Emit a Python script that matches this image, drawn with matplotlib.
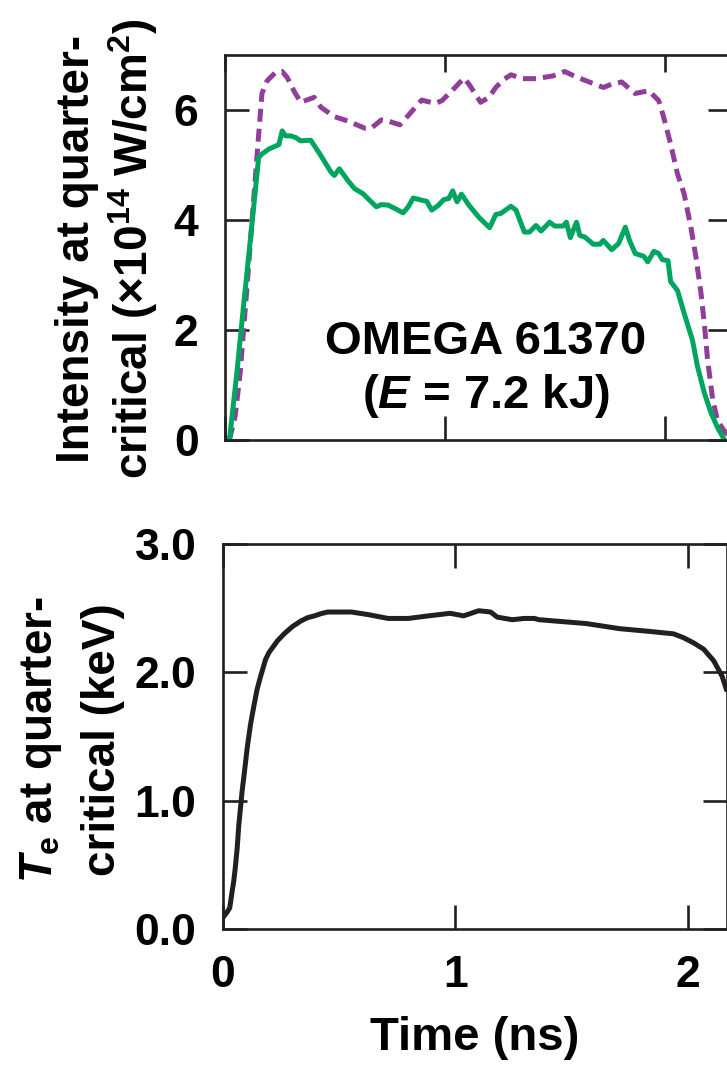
import matplotlib
matplotlib.use("Agg")
import matplotlib.pyplot as plt

# top panel: intensity at quarter-critical (x10^14 W/cm^2), OMEGA shot 61370
green_t = [0.020, 0.054, 0.084, 0.115, 0.138, 0.153, 0.168, 0.199, 0.245, 0.260,
           0.275, 0.298, 0.321, 0.344, 0.390, 0.436, 0.482, 0.497, 0.520, 0.558,
           0.589, 0.627, 0.657, 0.688, 0.711, 0.742, 0.772, 0.810, 0.833, 0.856,
           0.894, 0.917, 0.940, 0.971, 0.994, 1.017, 1.035, 1.055, 1.075, 1.109,
           1.154, 1.203, 1.231, 1.254, 1.300, 1.323, 1.361, 1.384, 1.414, 1.437,
           1.476, 1.499, 1.537, 1.552, 1.570, 1.598, 1.613, 1.636, 1.674, 1.705,
           1.720, 1.758, 1.789, 1.820, 1.839, 1.865, 1.904, 1.922, 1.950, 1.972,
           1.988, 2.014, 2.026, 2.057, 2.087, 2.125, 2.148, 2.179, 2.209, 2.240,
           2.271]
green_I = [0.0, 1.22, 2.43, 3.63, 4.54, 5.14, 5.20, 5.29, 5.37, 5.62,
           5.53, 5.53, 5.50, 5.44, 5.45, 5.17, 4.87, 4.81, 4.93, 4.72,
           4.57, 4.48, 4.36, 4.24, 4.28, 4.27, 4.21, 4.13, 4.24, 4.40,
           4.36, 4.34, 4.18, 4.27, 4.37, 4.39, 4.53, 4.33, 4.47, 4.27,
           4.05, 3.86, 4.10, 4.12, 4.25, 4.18, 3.78, 3.78, 3.90, 3.80,
           3.96, 3.89, 3.89, 3.96, 3.68, 3.96, 3.72, 3.69, 3.56, 3.56,
           3.63, 3.46, 3.57, 3.87, 3.63, 3.39, 3.34, 3.24, 3.43, 3.39,
           3.28, 3.26, 2.88, 2.72, 2.31, 1.82, 1.34, 0.86, 0.50, 0.22,
           0.0]

purple_t = [0.020, 0.046, 0.069, 0.099, 0.130, 0.153, 0.168, 0.191, 0.229, 0.260,
            0.283, 0.313, 0.344, 0.405, 0.436, 0.497, 0.558, 0.635, 0.665, 0.711,
            0.742, 0.795, 0.833, 0.894, 0.956, 0.986, 1.032, 1.086, 1.109, 1.162,
            1.200, 1.231, 1.269, 1.300, 1.353, 1.414, 1.491, 1.544, 1.598, 1.720,
            1.758, 1.804, 1.835, 1.865, 1.888, 1.927, 1.972, 1.995, 2.026, 2.057,
            2.087, 2.118, 2.141, 2.164, 2.179, 2.194, 2.217, 2.240, 2.271, 2.310]
purple_I = [0.0, 0.43, 1.22, 2.73, 4.36, 5.55, 6.30, 6.53, 6.68, 6.70,
            6.59, 6.35, 6.14, 6.23, 6.05, 5.88, 5.80, 5.67, 5.67, 5.82,
            5.80, 5.73, 5.90, 6.18, 6.12, 6.17, 6.35, 6.58, 6.47, 6.14,
            6.23, 6.41, 6.56, 6.64, 6.57, 6.57, 6.62, 6.70, 6.60, 6.41,
            6.47, 6.51, 6.40, 6.30, 6.32, 6.35, 6.17, 5.86, 5.38, 4.84,
            4.48, 3.87, 3.33, 2.67, 2.12, 1.46, 0.74, 0.34, 0.16, 0.0]

# bottom panel: Te at quarter-critical (keV)
te_t = [0.0, 0.017, 0.029, 0.039, 0.046, 0.053, 0.061, 0.068, 0.082, 0.092,
        0.104, 0.118, 0.133, 0.147, 0.162, 0.183, 0.198, 0.212, 0.234, 0.263,
        0.299, 0.335, 0.364, 0.393, 0.421, 0.450, 0.552, 0.624, 0.710, 0.797,
        0.884, 0.977, 1.035, 1.100, 1.151, 1.180, 1.245, 1.295, 1.339, 1.360,
        1.563, 1.707, 1.829, 1.938, 1.981, 2.024, 2.068, 2.111, 2.147, 2.165]
te_keV = [0.09, 0.13, 0.165, 0.29, 0.37, 0.48, 0.63, 0.81, 1.07, 1.22,
          1.41, 1.59, 1.74, 1.87, 1.97, 2.10, 2.155, 2.19, 2.245, 2.30,
          2.357, 2.40, 2.426, 2.44, 2.457, 2.47, 2.47, 2.45, 2.42, 2.42,
          2.44, 2.46, 2.44, 2.48, 2.47, 2.43, 2.41, 2.42, 2.42, 2.41,
          2.38, 2.34, 2.32, 2.30, 2.27, 2.23, 2.18, 2.09, 1.97, 1.87]

time_ticks = [0, 1, 2]
int_ticks = [0, 2, 4, 6]
te_ticks = [0.0, 1.0, 2.0, 3.0]

GREEN = "#00A660"
PURPLE = "#903F99"
INK = "#231F20"

plt.rcParams["font.family"] = ["Liberation Sans", "DejaVu Sans"]
plt.rcParams["font.weight"] = "bold"
plt.rcParams["axes.labelweight"] = "bold"
plt.rcParams["mathtext.fontset"] = "custom"
plt.rcParams["mathtext.rm"] = "Liberation Sans:bold"
plt.rcParams["mathtext.it"] = "Liberation Sans:italic:bold"
plt.rcParams["mathtext.bf"] = "Liberation Sans:bold"

W, H = 727, 1066
fig = plt.figure(figsize=(W / 100, H / 100), dpi=100)


def px_axes(left, top, right, bottom):
    return fig.add_axes([left / W, 1 - bottom / H, (right - left) / W, (bottom - top) / H])


def ylabel_line(x, y, s):
    fig.text(x / W, 1 - y / H, s, rotation=90, rotation_mode="anchor",
             ha="center", va="baseline", fontsize=33, color="black")


ax1 = px_axes(225, 55, 732, 440)
ax2 = px_axes(223, 544, 726.5, 929)

for ax in (ax1, ax2):
    ax.tick_params(direction="in", length=17.5, width=1.9, top=True, right=True,
                   labelsize=32, pad=19, color=INK)
    for s in ax.spines.values():
        s.set_linewidth(1.9)
        s.set_color(INK)

ax1.plot(purple_t, purple_I, color=PURPLE, lw=3.6, dashes=(2.6, 1.4))
ax1.plot(green_t, green_I, color=GREEN, lw=3.6, solid_joinstyle="round")
ax1.set_xlim(0, 2.305)
ax1.set_ylim(0, 7)
ax1.set_xticks(time_ticks)
ax1.set_yticks(int_ticks)
ax1.tick_params(labelbottom=False)
for tick in ax1.xaxis.get_major_ticks():
    tick.tick2line.set_markersize(12.5)

ax1.text(0.514, 0.2226, "OMEGA 61370", transform=ax1.transAxes,
         ha="center", va="baseline", fontsize=34)
ax1.text(0.514, 0.083, "($E$ = 7.2 kJ)", transform=ax1.transAxes,
         ha="center", va="baseline", fontsize=34)

ax2.plot(te_t, te_keV, color=INK, lw=3.6, solid_joinstyle="round")
ax2.set_xlim(0, 2.166)
ax2.set_ylim(0, 3)
ax2.set_xticks(time_ticks)
ax2.set_yticks(te_ticks)
ax2.set_yticklabels([f"{v:.1f}" for v in te_ticks])
ax2.set_xlabel("Time (ns)", fontsize=34, fontweight="bold", labelpad=14)

ylabel_line(89, 249, "Intensity at quarter-")
ylabel_line(148, 249, "critical (×10$^{14}$ W/cm$^{2}$)")
ylabel_line(52, 740, "$T_{\\mathrm{e}}$ at quarter-")
ylabel_line(115, 740, "critical (keV)")

fig.savefig("out.png", dpi=100)
